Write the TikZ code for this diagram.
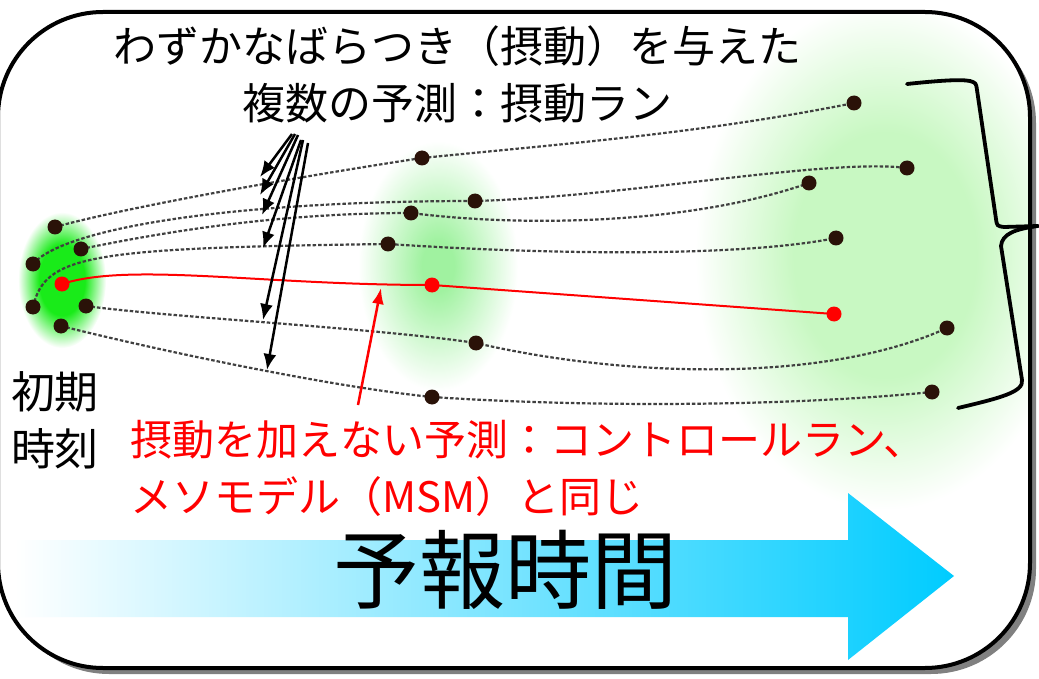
\documentclass[tikz,border=0pt]{standalone}
\usepackage{fontspec}
\setmainfont{Noto Sans CJK JP}
\usetikzlibrary{arrows.meta}
\definecolor{dotbrown}{RGB}{42,18,8}
\definecolor{arrowblue}{RGB}{0,204,255}
\definecolor{gL}{RGB}{25,235,25}
\definecolor{gM}{RGB}{160,242,160}
\definecolor{gR}{RGB}{200,248,194}
\pgfdeclareradialshading{blobL}{\pgfpoint{0bp}{0bp}}{color(0bp)=(gL); color(13bp)=(gL); color(25bp)=(white); color(50bp)=(white)}
\pgfdeclareradialshading{blobM}{\pgfpoint{0bp}{0bp}}{color(0bp)=(gM); color(5bp)=(gM); color(25bp)=(white); color(50bp)=(white)}
\pgfdeclareradialshading{blobR}{\pgfpoint{0bp}{0bp}}{color(0bp)=(gR); color(12bp)=(gR); color(25bp)=(white); color(50bp)=(white)}
\pgfdeclarelayer{bg}
\pgfdeclarelayer{mid}
\pgfsetlayers{bg,mid,main}
\begin{document}
\begin{tikzpicture}[x=1pt,y=-1pt,
  run/.style={line width=2.2pt, dash pattern=on 3.5pt off 2pt, draw=black!75},
  ctrlrun/.style={line width=2pt, draw=red},
  mem/.style={circle, fill=dotbrown, inner sep=0pt, minimum size=15pt},
  ctl/.style={circle, fill=red, inner sep=0pt, minimum size=15pt},
  ptr/.style={line width=2.5pt, -{Latex[length=16pt,width=13pt]}},
  redptr/.style={line width=2.5pt, draw=red, fill=red, -{Latex[length=16pt,width=12pt]}},
  bracestyle/.style={line width=3.8pt, line join=round, line cap=round},
  lbl/.style={inner sep=0pt}]
\useasboundingbox (0,0) rectangle (1039,679);

% ---------- background: frame, blobs, time arrow
\begin{pgfonlayer}{bg}
  \fill[black!50, rounded corners=105pt] (4,18) rectangle (1036,674);
  \fill[white, rounded corners=105pt] (-2,12) rectangle (1030,668);
  \begin{scope}
    \clip[rounded corners=105pt] (-2,12) rectangle (1030,668);
    \shade[shading=blobR] (885,255) ellipse [x radius=190, y radius=255];
    \shade[shading=blobM] (438,266) ellipse [x radius=80, y radius=125];
    \shade[shading=blobL] (62,280) ellipse [x radius=44, y radius=68];
  \end{scope}
  \shade[left color=white, right color=arrowblue]
    (15,540) -- (848,540) -- (848,493) -- (954,576) -- (848,660) -- (848,617) -- (15,617) -- cycle;
\end{pgfonlayer}

% ---------- ensemble members
\node[mem] (a0) at (55,227) {};
\node[mem] (b0) at (33,264) {};
\node[mem] (c0) at (81,249) {};
\node[ctl] (r0) at (62,284) {};
\node[mem] (d0) at (33,307) {};
\node[mem] (e0) at (86,306) {};
\node[mem] (f0) at (61,326) {};

\node[mem] (a1) at (422,158) {};
\node[mem] (b1) at (475,201) {};
\node[mem] (c1) at (411,213) {};
\node[mem] (d1) at (388,244) {};
\node[ctl] (r1) at (432,285) {};
\node[mem] (e1) at (476,343) {};
\node[mem] (f1) at (432,397) {};

\node[mem] (a2) at (854,103) {};
\node[mem] (b2) at (907,168) {};
\node[mem] (c2) at (809,183) {};
\node[mem] (d2) at (836,238) {};
\node[ctl] (r2) at (834,314) {};
\node[mem] (e2) at (947,328) {};
\node[mem] (f2) at (932,392) {};

\begin{pgfonlayer}{mid}
  \draw[run] (a0.center) .. controls +(80,-22) and +(-100,15) .. (a1.center)
                         .. controls +(150,-15) and +(-150,30) .. (a2.center);
  \draw[run] (b0.center) .. controls +(30,-35) and +(-250,0) .. (b1.center)
                         .. controls +(150,-4) and +(-80,-10) .. (b2.center);
  \draw[run] (c0.center) .. controls +(60,-12) and +(-150,0) .. (c1.center)
                         .. controls +(110,14) and +(-120,42) .. (c2.center);
  \draw[run] (d0.center) .. controls +(12,-52) and +(-300,4) .. (d1.center)
                         .. controls +(150,10) and +(-100,20) .. (d2.center);
  \draw[run] (e0.center) .. controls +(80,11) and +(-100,-15) .. (e1.center)
                         .. controls +(150,35) and +(-120,55) .. (e2.center);
  \draw[run] (f0.center) .. controls +(100,25) and +(-100,-10) .. (f1.center)
                         .. controls +(150,10) and +(-150,15) .. (f2.center);
  \draw[ctrlrun] (r0.center) .. controls +(68,-22) and +(-172,0) .. (r1.center) -- (r2.center);

  % pointers from the title to the perturbed runs
  \coordinate (s1) at (292,134);
  \coordinate (s2) at (295,134);
  \coordinate (s3) at (298,135);
  \coordinate (s4) at (301,140);
  \coordinate (s5) at (303,140);
  \coordinate (s6) at (308,143);
  \coordinate (t1) at (260,177);
  \coordinate (t2) at (260,195);
  \coordinate (t3) at (262,215);
  \coordinate (t4) at (263,248);
  \coordinate (t5) at (263,320);
  \coordinate (t6) at (267,370);
  \draw[ptr] (s1) -- (t1);
  \draw[ptr] (s2) -- (t2);
  \draw[ptr] (s3) -- (t3);
  \draw[ptr] (s4) -- (t4);
  \draw[ptr] (s5) -- (t5);
  \draw[ptr] (s6) -- (t6);

  % pointer to the control run
  \coordinate (rs) at (358,405);
  \coordinate (rt) at (381,288);
  \draw[redptr] (rs) -- (rt);
\end{pgfonlayer}

% ---------- texts
\node[lbl, font=\fontsize{43}{57}\selectfont, align=center] (title) at (457,74)
  {わずかなばらつき（摂動）を与えた\\複数の予測：摂動ラン};
\node[lbl, font=\fontsize{44}{57}\selectfont, align=center] (init) at (55,420)
  {初期\\時刻};
\node[lbl, font=\fontsize{42}{57}\selectfont, align=left, text=red, anchor=west] (ctrltext) at (130,468)
  {摂動を加えない予測：コントロールラン、\\メソモデル（MSM）と同じ};
\node[lbl, font=\fontsize{86}{86}\selectfont] (lead) at (505,570) {予報時間};

% ---------- frame and brace
\draw[line width=4pt, rounded corners=105pt] (-2,12) rectangle (1030,668);
\draw[bracestyle] (907,84) .. controls (935,81) and (960,79) .. (970,81)
   .. controls (976,83) .. (977,90) -- (996,219) .. controls (997,226) .. (1004,227) -- (1038,226);
\draw[bracestyle] (1038,226) .. controls (1015,229) and (1002,234) .. (1001,246)
   -- (1022,380) .. controls (1024,392) and (1000,398) .. (958,408);
\end{tikzpicture}
\end{document}
